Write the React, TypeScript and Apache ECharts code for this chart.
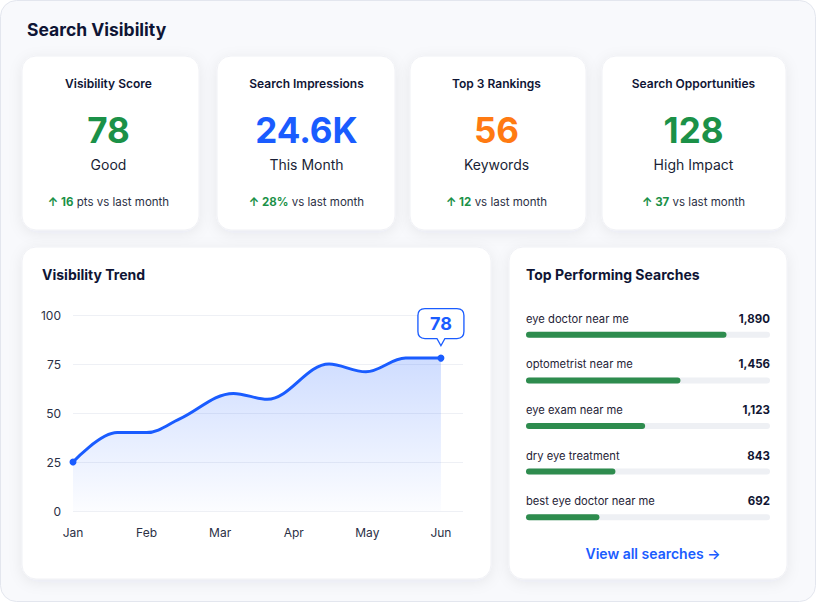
import React, { useEffect, useRef } from "react";
import * as echarts from "echarts";

// KPI tiles
const kpiTitles = ["Visibility Score", "Search Impressions", "Top 3 Rankings", "Search Opportunities"];
const kpiValues = ["78", "24.6K", "56", "128"];
const kpiSubtitles = ["Good", "This Month", "Keywords", "High Impact"];
const kpiDeltas = ["16", "28%", "12", "37"];
const kpiDeltaSuffix = ["pts vs last month", "vs last month", "vs last month", "vs last month"];
const kpiColors = ["#1b9148", "#1a5cff", "#ff7a12", "#1b9148"];

// Visibility trend (x in months from Jan)
const trendMonths = ["Jan", "Feb", "Mar", "Apr", "May", "Jun"];
const trendMonthPos = [0, 0.6, 1, 1.45, 2.18, 2.64, 3.48, 3.98, 4.52, 5];
const trendValues = [25, 40, 40, 47, 60, 57, 75, 71, 78, 78];

// Top performing searches
const searchTerms = ["eye doctor near me", "optometrist near me", "eye exam near me", "dry eye treatment", "best eye doctor near me"];
const searchCounts = [1890, 1456, 1123, 843, 692];
const countAxisMax = 2300;

const FONT = 'Inter, "Noto Sans", "DejaVu Sans", sans-serif';
const NAVY = "#0f1535";
const BLUE = "#1a5cff";

const cardRects = [
  { x: 22, y: 56, w: 177, h: 174 },
  { x: 217, y: 56, w: 178, h: 174 },
  { x: 410, y: 56, w: 176, h: 174 },
  { x: 602, y: 56, w: 184, h: 174 },
];
const kpiCenters = [108.5, 306.5, 496.5, 693.5];

const calloutPath =
  "path://M7 0L39 0Q46 0 46 7L46 23Q46 30 39 30L27 30L23 37L19 30L7 30Q0 30 0 23L0 7Q0 0 7 0Z";

function card(x: number, y: number, w: number, h: number) {
  return {
    type: "rect",
    z: -5,
    shape: { x, y, width: w, height: h, r: 14 },
    style: {
      fill: "#ffffff",
      stroke: "#f0f1f5",
      lineWidth: 1,
      shadowBlur: 14,
      shadowColor: "rgba(20,30,70,0.07)",
      shadowOffsetY: 3,
    },
  };
}

function buildGraphic() {
  const els: any[] = [
    {
      type: "rect",
      z: -10,
      shape: { x: 0.5, y: 0.5, width: 815, height: 601, r: 16 },
      style: { fill: "#f8f9fc", stroke: "#e3e6ee", lineWidth: 1 },
    },
    {
      type: "text",
      z: 10,
      x: 27,
      y: 29,
      style: { text: "Search Visibility", fill: NAVY, font: `700 17.5px ${FONT}`, textVerticalAlign: "middle" },
    },
  ];
  cardRects.forEach((r) => els.push(card(r.x, r.y, r.w, r.h)));
  kpiTitles.forEach((t, i) => {
    const cx = kpiCenters[i];
    els.push({
      type: "text",
      z: 10,
      x: cx,
      y: 83,
      style: { text: t, fill: NAVY, font: `600 12px ${FONT}`, textAlign: "center", textVerticalAlign: "middle" },
    });
    els.push({
      type: "text",
      z: 10,
      x: cx,
      y: 130,
      style: { text: kpiValues[i], fill: kpiColors[i], font: `700 35px ${FONT}`, textAlign: "center", textVerticalAlign: "middle" },
    });
    els.push({
      type: "text",
      z: 10,
      x: cx,
      y: 164,
      style: { text: kpiSubtitles[i], fill: "#1a1f36", font: `400 14px ${FONT}`, textAlign: "center", textVerticalAlign: "middle" },
    });
    els.push({
      type: "text",
      z: 10,
      x: cx,
      y: 202,
      style: {
        text: `{g|↑ ${kpiDeltas[i]}} {n|${kpiDeltaSuffix[i]}}`,
        textAlign: "center",
        textVerticalAlign: "middle",
        rich: {
          g: { fill: "#1b9148", font: `700 11.5px ${FONT}` },
          n: { fill: "#2b3045", font: `400 11.5px ${FONT}` },
        },
      },
    });
  });
  els.push(card(22, 247, 469, 332));
  els.push(card(509, 247, 278, 332));
  els.push({
    type: "text",
    z: 10,
    x: 42,
    y: 274,
    style: { text: "Visibility Trend", fill: NAVY, font: `700 14px ${FONT}`, textVerticalAlign: "middle" },
  });
  els.push({
    type: "text",
    z: 10,
    x: 526,
    y: 274,
    style: { text: "Top Performing Searches", fill: NAVY, font: `700 14px ${FONT}`, textVerticalAlign: "middle" },
  });
  els.push({
    type: "text",
    z: 10,
    x: 653,
    y: 553,
    style: { text: "View all searches →", fill: BLUE, font: `600 14px ${FONT}`, textAlign: "center", textVerticalAlign: "middle" },
  });
  return els;
}

export default function App() {
  const ref = useRef<HTMLDivElement>(null);

  useEffect(() => {
    if (!ref.current) return;
    const chart = echarts.init(ref.current, null, { renderer: "svg" });
    const last = trendValues.length - 1;
    const trendData = trendMonthPos.map((p, i) => [p, trendValues[i]]);

    chart.setOption({
      animation: false,
      textStyle: { fontFamily: FONT },
      graphic: { elements: buildGraphic() },
      grid: [
        { left: 73, top: 315, width: 390, height: 196 },
        { left: 526, top: 312, width: 244, height: 228 },
      ],
      xAxis: [
        {
          type: "value",
          gridIndex: 0,
          z: 5,
          min: 0,
          max: 5.3,
          interval: 1,
          axisLine: { show: false },
          axisTick: { show: false },
          splitLine: { show: false },
          axisLabel: {
            color: "#2b3045",
            fontSize: 12,
            margin: 15,
            showMaxLabel: true,
            formatter: (v: number) => (Number.isInteger(v) && trendMonths[v] ? trendMonths[v] : ""),
          },
        },
        { type: "value", gridIndex: 1, min: 0, max: countAxisMax, show: false },
      ],
      yAxis: [
        {
          type: "value",
          gridIndex: 0,
          z: 1,
          min: 0,
          max: 100,
          interval: 25,
          axisLine: { show: false },
          axisTick: { show: false },
          splitLine: { lineStyle: { color: "#eef0f5", width: 1 } },
          axisLabel: { color: "#2b3045", fontSize: 12, margin: 12 },
        },
        { type: "category", gridIndex: 1, data: searchTerms, inverse: true, show: false },
      ],
      series: [
        {
          type: "line",
          xAxisIndex: 0,
          yAxisIndex: 0,
          data: trendData,
          smooth: 0.35,
          symbol: "circle",
          showSymbol: true,
          symbolSize: (_v: any, p: any) => (p.dataIndex === 0 || p.dataIndex === last ? 7 : 0),
          itemStyle: { color: BLUE },
          lineStyle: { color: BLUE, width: 3 },
          areaStyle: {
            color: new echarts.graphic.LinearGradient(0, 0, 0, 1, [
              { offset: 0, color: "rgba(26,92,255,0.30)" },
              { offset: 1, color: "rgba(26,92,255,0.02)" },
            ]),
          },
          markPoint: {
            symbol: calloutPath,
            symbolSize: [46, 37],
            symbolOffset: [0, -31],
            itemStyle: { color: "#ffffff", borderColor: BLUE, borderWidth: 1.2 },
            label: {
              show: true,
              position: "inside",
              offset: [0, -3.5],
              color: BLUE,
              fontSize: 18,
              fontWeight: 700,
              formatter: "{c}",
            },
            data: [{ coord: [trendMonthPos[last], trendValues[last]], value: trendValues[last] }],
          },
        },
        {
          type: "bar",
          name: "track",
          xAxisIndex: 1,
          yAxisIndex: 1,
          silent: true,
          barWidth: 6,
          data: searchTerms.map(() => countAxisMax),
          itemStyle: { color: "#eef0f4", borderRadius: 3 },
          label: {
            show: true,
            position: "insideRight",
            distance: 0,
            offset: [0, -16],
            color: "#111633",
            fontSize: 11.5,
            fontWeight: 700,
            formatter: (p: any) => searchCounts[p.dataIndex].toLocaleString("en-US"),
          },
        },
        {
          type: "bar",
          name: "searches",
          xAxisIndex: 1,
          yAxisIndex: 1,
          barWidth: 6,
          barGap: "-100%",
          data: searchCounts,
          itemStyle: { color: "#2e8c4e", borderRadius: 3 },
          label: {
            show: true,
            position: [0, -13],
            align: "left",
            verticalAlign: "middle",
            color: "#1f2437",
            fontSize: 11.2,
            formatter: (p: any) => p.name,
          },
        },
      ],
    });

    return () => chart.dispose();
  }, []);

  return (
    <div
      ref={ref}
      style={{ position: "fixed", left: 0, top: 0, width: 816, height: 602, background: "#ffffff" }}
    />
  );
}
